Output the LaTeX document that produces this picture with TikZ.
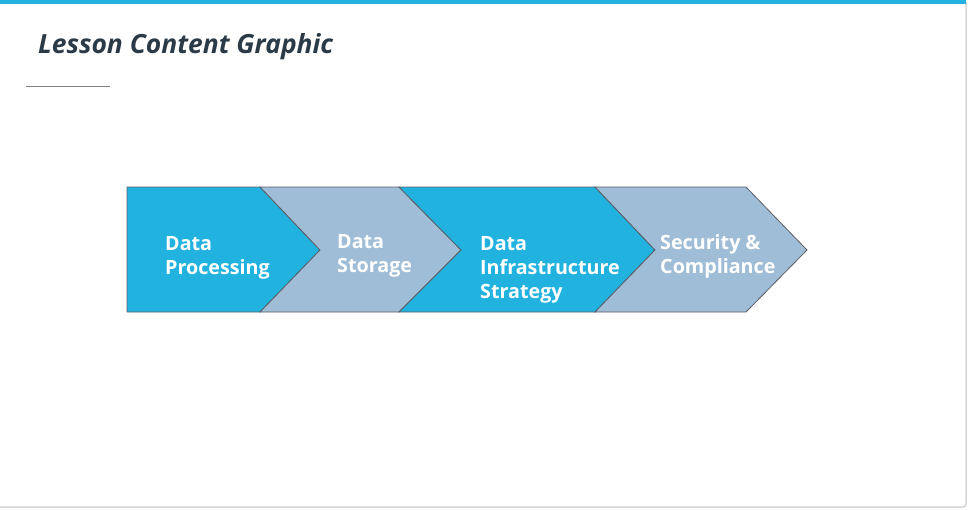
\documentclass[tikz,border=0pt]{standalone}
\usepackage{fontspec}
\setmainfont{Open Sans}
\definecolor{topbar}{HTML}{22B2E0}
\definecolor{chevblue}{HTML}{22B2E0}
\definecolor{chevgray}{HTML}{9FBDD6}
\definecolor{titlecol}{HTML}{2B3A47}
\definecolor{edgecol}{HTML}{5A5F66}
\definecolor{framecol}{HTML}{D6D6D6}
\tikzset{
  chev/.style={draw=edgecol, line width=0.8pt, line join=miter},
  lbl/.style={anchor=north west, inner sep=0pt, text=white, font=\bfseries\fontsize{19.7}{24}\selectfont, align=left},
}
\begin{document}
\begin{tikzpicture}[x=1pt,y=-1pt]
\useasboundingbox (0,0) rectangle (969,509);
\fill[white] (0,0) rectangle (969,509);
% frame
\draw[framecol, line width=1.5pt] (966,2) -- (966,504) arc[start angle=0,end angle=90,radius=3] -- (0,507);
\fill[topbar] (0,0) rectangle (966,4);
% title
\node[anchor=base west, inner sep=0pt, text=titlecol, font=\bfseries\itshape\fontsize{26.4}{30}\selectfont] (title) at (38,53) {Lesson Content Graphic};
\draw[gray, line width=0.8pt] (26,86) -- (110,86);
% chevrons
\draw[chev, fill=chevblue] (127,187) -- (260,187) -- (320,250) -- (260,312) -- (127,312) -- cycle;
\draw[chev, fill=chevgray] (260,187) -- (399,187) -- (461,250) -- (399,312) -- (260,312) -- (320,250) -- cycle;
\draw[chev, fill=chevblue] (399,187) -- (595,187) -- (655,250) -- (595,312) -- (399,312) -- (461,250) -- cycle;
\draw[chev, fill=chevgray] (595,187) -- (746,187) -- (807,250) -- (746,312) -- (595,312) -- (655,250) -- cycle;
% labels
\node[lbl] (l1) at (165,236) {Data\\Processing};
\node[lbl] (l2) at (337,234) {Data\\Storage};
\node[lbl] (l3) at (480,236) {Data\\Infrastructure\\Strategy};
\node[lbl] (l4) at (660,234) {Security \&\\Compliance};
\end{tikzpicture}
\end{document}
